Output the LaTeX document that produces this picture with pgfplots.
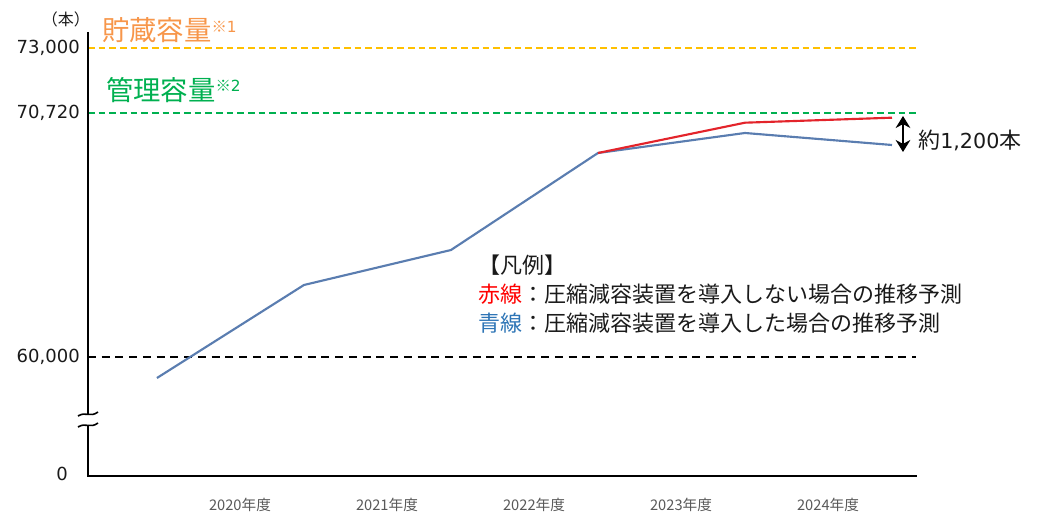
\documentclass[border=0pt]{standalone}
\usepackage{pgfplots}
\pgfplotsset{compat=1.18}
\usepackage{fontspec}
\setmainfont{Noto Sans CJK JP}
\newfontfamily\lat{DejaVu Sans}
\usetikzlibrary{arrows.meta}
\definecolor{lineblue}{HTML}{5A7DB0}
\definecolor{linered}{HTML}{E3242B}
\definecolor{capyellow}{HTML}{FFC000}
\definecolor{capgreen}{HTML}{00B050}
\definecolor{txtorange}{HTML}{F7964A}
\definecolor{txtblue}{HTML}{2E75B6}
\definecolor{tickgray}{HTML}{595959}
\definecolor{txtblack}{HTML}{1A1A1A}
\begin{document}
\begin{tikzpicture}
\begin{scope}[x=0.75pt,y=-0.75pt,shift={(-66pt,357pt)}]
\useasboundingbox (0,0) rectangle (1054,515);
\end{scope}
\begin{axis}[
  scale only axis, width=621.75pt, height=333pt,
  xmin=2018.531, xmax=2024.170, ymin=54765, ymax=74298,
  axis x line*=bottom, axis y line*=left, axis line style={draw=none},
  major tick length=0pt, clip=false,
  scaled y ticks=false, scaled x ticks=false,
  /pgf/number format/assume math mode=true,
  xtick={2019.565,2020.565,2021.565,2022.565,2023.565},
  xticklabels={2020年度,2021年度,2022年度,2023年度,2024年度},
  xticklabel style={font=\fontsize{11}{12}\selectfont, text=tickgray, anchor=center, yshift=-21.75pt},
  ytick={60000,70720,73594},
  yticklabels={{60,000},{70,720},{73,000}},
  yticklabel style={font=\lat\fontsize{13.5}{16}\selectfont, text=txtblack, anchor=east, inner sep=0pt, xshift=-6pt},
]
\addplot[capyellow, line width=1.5pt, dash pattern=on 5pt off 3pt] coordinates {(2018.531,73594) (2024.163,73594)};
\addplot[capgreen, line width=1.5pt, dash pattern=on 5pt off 3pt] coordinates {(2018.531,70720) (2024.163,70720)};
\addplot[black, line width=1.4pt, dash pattern=on 6pt off 4.3pt] coordinates {(2018.531,60000) (2024.163,60000)};
\addplot[lineblue, line width=1.6pt] coordinates {(2019,59076) (2020,63168) (2021,64707) (2022,68975) (2023,69855) (2024,69327)};
\addplot[linered, line width=1.6pt] coordinates {(2022,68975) (2023,70308) (2024,70528)};
\end{axis}
\begin{scope}[x=0.75pt,y=-0.75pt,shift={(-66pt,357pt)}]
  % axis lines with break
  \draw[line width=1.5pt, black] (88,32) -- (88,414);
  \draw[line width=1.5pt, black] (88,425) -- (88,476) -- (917,476);
  \draw[line width=1.2pt, black] (78,416) .. controls (86,411) and (90,418) .. (98,412);
  \draw[line width=1.2pt, black] (78,427) .. controls (86,422) and (90,429) .. (98,423);
  % zero label
  \node[anchor=east, inner sep=0pt, text=txtblack, font=\lat\fontsize{13.5}{16}\selectfont] at (68,474) {0};
  % unit
  \node[inner sep=0pt, text=txtblack, font=\fontsize{12}{14}\selectfont] at (66,19) {（本）};
  % capacity labels
  \node[anchor=west, inner sep=0pt, text=txtorange, font=\fontsize{20.5}{24}\selectfont] at (102,30.5) {貯蔵容量\raisebox{6.5pt}{\fontsize{11.5}{12}\selectfont ※\lat 1}};
  \node[anchor=west, inner sep=0pt, text=capgreen, font=\fontsize{20.5}{24}\selectfont] at (106,90) {管理容量\raisebox{6.5pt}{\fontsize{11.5}{12}\selectfont ※\lat 2}};
  % difference arrow
  \draw[line width=1.8pt, {Stealth[length=9pt,width=11pt]}-{Stealth[length=9pt,width=11pt]}] (903,116) -- (903,152);
  \node[anchor=west, inner sep=0pt, text=txtblack, font=\fontsize{16.5}{20}\selectfont] at (918,140) {約{\lat\fontsize{15.5}{20}\selectfont 1,200}本};
  % legend text
  \node[anchor=west, inner sep=0pt, text=txtblack, font=\fontsize{16.5}{20}\selectfont] at (478,265) {【凡例】};
  \node[anchor=west, inner sep=0pt, text=txtblack, font=\fontsize{16.5}{20}\selectfont] at (478,294) {\textcolor{red}{赤線}：圧縮減容装置を導入しない場合の推移予測};
  \node[anchor=west, inner sep=0pt, text=txtblack, font=\fontsize{16.5}{20}\selectfont] at (478,323) {\textcolor{txtblue}{青線}：圧縮減容装置を導入した場合の推移予測};
\end{scope}
\end{tikzpicture}
\end{document}
